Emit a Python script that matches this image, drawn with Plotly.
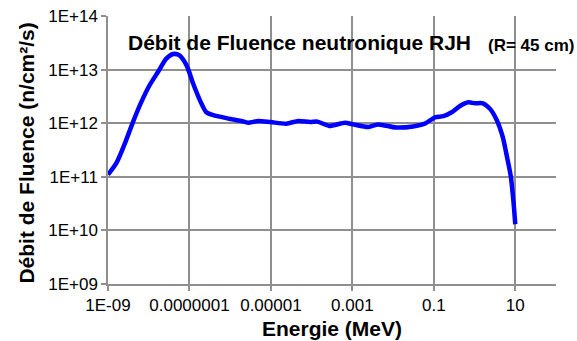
import plotly.graph_objects as go

# Energy (MeV) and neutron fluence rate (n/cm2/s)
energie = [1e-9, 1.6e-9, 2.6e-9, 4.1e-9, 6.6e-9, 1.05e-8, 1.7e-8, 2.7e-8, 4.0e-8, 5.6e-8,
           8.5e-8, 1.23e-7, 1.8e-7, 2.6e-7, 4.0e-7, 6.3e-7, 1.2e-6, 1.9e-6, 2.75e-6, 4.9e-6,
           9.8e-6, 2.4e-5, 4.7e-5, 9.1e-5, 1.4e-4, 2.7e-4, 6.6e-4, 1.05e-3, 2.5e-3, 4.3e-3,
           1.2e-2, 3.1e-2, 6.0e-2, 0.107, 0.17, 0.275, 0.44, 0.71, 1.02, 1.6,
           2.4, 3.5, 4.9, 6.3, 7.8, 9.1, 10]
debit = [1.1e11, 1.8e11, 4.2e11, 1.05e12, 2.5e12, 5.1e12, 9.1e12, 1.6e13, 1.95e13, 1.86e13,
         1.2e13, 5.5e12, 2.7e12, 1.6e12, 1.4e12, 1.3e12, 1.17e12, 1.1e12, 1.02e12, 1.1e12,
         1.05e12, 9.8e11, 1.1e12, 1.05e12, 1.07e12, 8.9e11, 1.02e12, 9.5e11, 8.5e11, 9.5e11,
         8.3e11, 8.7e11, 9.8e11, 1.29e12, 1.35e12, 1.6e12, 2.1e12, 2.45e12, 2.35e12, 2.35e12,
         1.85e12, 1.15e12, 5.6e11, 2.3e11, 1.0e11, 3.2e10, 1.3e10]

x_tickvals = [1e-9, 1e-7, 1e-5, 1e-3, 0.1, 10]
x_ticktext = ["1E-09", "0.0000001", "0.00001", "0.001", "0.1", "10"]
y_tickvals = [1e9, 1e10, 1e11, 1e12, 1e13, 1e14]
y_ticktext = ["1E+09", "1E+10", "1E+11", "1E+12", "1E+13", "1E+14"]

titre = "Débit de Fluence neutronique RJH"
sous_titre = "(R= 45 cm)"
x_titre = "Energie (MeV)"
y_titre = "Débit de Fluence (n/cm²/s)"

FONT = "Liberation Sans, Arial, sans-serif"
GRID = "#8f8f8f"

fig = go.Figure()
fig.add_trace(go.Scatter(
    x=energie, y=debit, mode="lines",
    line=dict(color="#0000ff", width=4.5, shape="spline", smoothing=0.7),
    showlegend=False,
))

fig.update_layout(
    width=577, height=341,
    margin=dict(l=108, r=21, t=16, b=57, autoexpand=False),
    paper_bgcolor="white", plot_bgcolor="white",
    font=dict(family=FONT, color="black", size=17),
    annotations=[
        dict(text="<b>" + titre + "</b>", xref="x", yref="y",
             x=-8.55, y=13.51, xanchor="left", yanchor="middle",
             showarrow=False, font=dict(size=21, family=FONT, color="black")),
        dict(text="<b>" + sous_titre + "</b>", xref="x", yref="y",
             x=0.28, y=13.445, xanchor="left", yanchor="middle",
             showarrow=False, font=dict(size=17, family=FONT, color="black")),
        # axis titles
        dict(text="<b>" + x_titre + "</b>", xref="paper", yref="paper",
             x=0.5, y=-0.166, xanchor="center", yanchor="middle",
             showarrow=False, font=dict(size=21, family=FONT, color="black")),
        dict(text="<b>" + y_titre + "</b>", xref="paper", yref="paper",
             x=-0.181, y=0.49, xanchor="center", yanchor="middle", textangle=-90,
             showarrow=False, font=dict(size=21, family=FONT, color="black")),
    ],
)

fig.update_xaxes(
    type="log", range=[-9, 2], automargin=False,
    tickvals=x_tickvals, ticktext=x_ticktext,
    showgrid=True, gridcolor=GRID, gridwidth=1.5,
    showline=True, linecolor=GRID, linewidth=1.5,
    ticks="outside", ticklen=5, tickcolor=GRID, tickwidth=1.5,
    tickfont=dict(size=17, family=FONT, color="black"),
    zeroline=False,
)
fig.update_yaxes(
    type="log", range=[9, 14], automargin=False,
    tickvals=y_tickvals, ticktext=y_ticktext,
    showgrid=True, gridcolor=GRID, gridwidth=1.5,
    showline=True, linecolor=GRID, linewidth=1.5,
    ticks="outside", ticklen=5, tickcolor=GRID, tickwidth=1.5,
    tickfont=dict(size=17, family=FONT, color="black"),
    zeroline=False,
)

fig.write_html("out.html", config={"displayModeBar": False},
               post_script="document.body.style.margin='0px';document.body.style.overflow='hidden';")
